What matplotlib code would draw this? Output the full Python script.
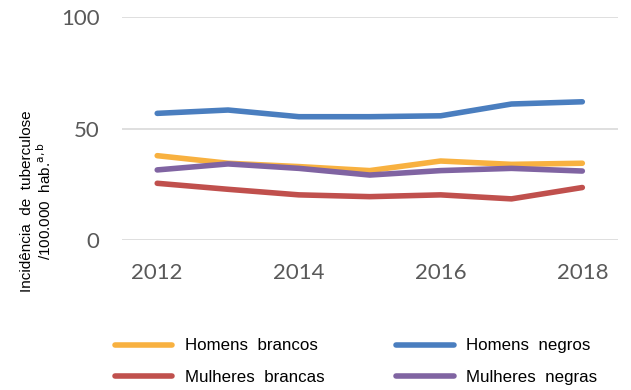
import matplotlib.pyplot as plt

anos = [2012, 2013, 2014, 2015, 2016, 2017, 2018]
homens_brancos = [37.8, 34.4, 32.9, 31.1, 35.4, 33.9, 34.4]
homens_negros = [56.8, 58.3, 55.3, 55.3, 55.7, 61.0, 62.0]
mulheres_brancas = [25.4, 22.7, 20.2, 19.4, 20.2, 18.4, 23.5]
mulheres_negras = [31.4, 34.1, 32.1, 29.1, 31.1, 32.1, 30.9]

fig = plt.figure(figsize=(6.31, 3.90), dpi=100)
ax = fig.add_axes([0.193, 0.385, 0.786, 0.571])

lw = 4
l1, = ax.plot(anos, homens_brancos, color='#F8B140', lw=lw, solid_capstyle='round', label='Homens  brancos')
l2, = ax.plot(anos, homens_negros, color='#4A7EBF', lw=lw, solid_capstyle='round', label='Homens  negros')
l3, = ax.plot(anos, mulheres_brancas, color='#C0504D', lw=lw, solid_capstyle='round', label='Mulheres  brancas')
l4, = ax.plot(anos, mulheres_negras, color='#8064A2', lw=lw, solid_capstyle='round', label='Mulheres  negras')

ax.set_xlim(2011.5, 2018.5)
ax.set_ylim(0, 100)
ax.set_yticks([0, 50, 100])
ax.set_xticks([2012, 2014, 2016, 2018])
ax.grid(axis='y', color='#D9D9D9', lw=1.2)
ax.set_axisbelow(True)
for s in ax.spines.values():
    s.set_visible(False)
ax.tick_params(length=0, labelsize=16, labelcolor='#595959')
ax.tick_params(axis='x', pad=17)
ax.tick_params(axis='y', pad=16)
for t in ax.get_xticklabels() + ax.get_yticklabels():
    t.set_family('Lato')

fig.text(0.059, 0.485, 'Incidência  de  tuberculose\n/100.000  hab.$^{\\mathrm{a,b}}$', rotation=90,
         ha='center', va='center', multialignment='center', fontsize=11, family='Liberation Sans',
         linespacing=1.05)

# ordem por linhas: brancos / negros
leg = fig.legend(handles=[l1, l3, l2, l4], ncol=2, loc='center left', bbox_to_anchor=(0.182, 0.073),
                 frameon=False, prop={'family': 'Liberation Sans', 'size': 12.2},
                 borderpad=0, borderaxespad=0,
                 handlelength=3.4, handletextpad=0.75, columnspacing=4.2, labelspacing=0.95)

fig.savefig('out.png', dpi=100)
